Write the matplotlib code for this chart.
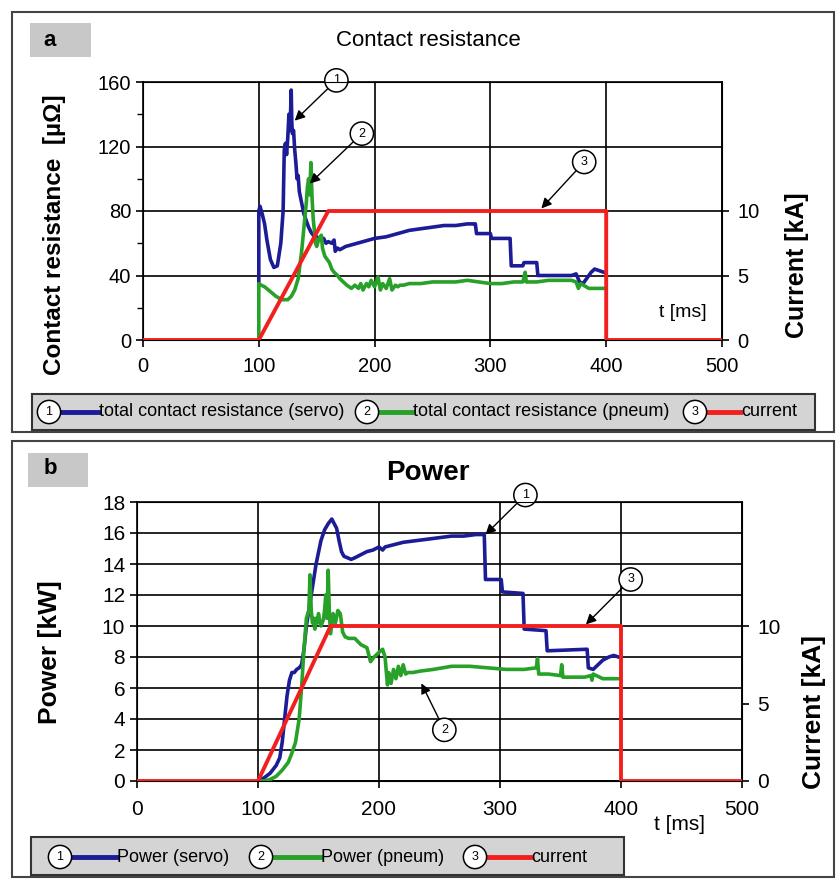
import matplotlib
matplotlib.use("Agg")
import matplotlib.pyplot as plt
from matplotlib.patches import Rectangle
from matplotlib.lines import Line2D

# ---------------------------------------------------------------------------
# Data
# ---------------------------------------------------------------------------
# current profile (kA), same in both panels
t_current = [0, 100, 160, 400, 400, 500]
i_current = [0, 0, 10, 10, 0, 0]

# panel a: total contact resistance (servo), micro-ohm
t_res_servo = [100, 100, 101, 103, 105, 107, 110, 113, 116, 119,
               121, 122, 123, 124, 125, 126, 127, 128, 128.5, 129,
               130, 131, 132, 133, 134, 135, 137, 139, 141, 143,
               145, 148, 150, 153, 156, 158, 160, 163, 165, 166,
               168, 170, 175, 180, 190, 200, 210, 220, 230, 240,
               250, 260, 270, 280, 285, 287, 288, 300, 301, 317,
               318, 328, 329, 340, 341, 370, 374, 377, 380, 383,
               387, 390, 394, 398]
r_servo = [35, 80, 83, 78, 72, 62, 50, 45, 46, 60,
           80, 118, 122, 115, 125, 140, 130, 155, 135, 128,
           130, 118, 110, 100, 102, 92, 85, 78, 74, 70,
           67, 64, 64, 62, 63, 60, 61, 60, 62, 55,
           57, 56, 58, 59, 61, 63, 64, 66, 68, 69,
           70, 71, 71, 72, 72, 72, 66, 66, 63, 63,
           46, 46, 48, 48, 40, 40, 41, 36, 35, 38,
           42, 44, 43, 42]

# panel a: total contact resistance (pneum), micro-ohm
t_res_pneum = [100, 100, 102, 105, 110, 115, 120, 125, 128, 131,
               134, 137, 139, 141, 142, 143, 144, 145, 145.5, 146,
               147, 148, 149, 150, 152, 154, 155, 157, 159, 161,
               163, 165, 168, 170, 173, 176, 180, 183, 186, 188,
               190, 193, 195, 197, 200, 203, 205, 207, 210, 213,
               215, 218, 220, 222, 225, 230, 240, 250, 260, 270,
               280, 290, 300, 310, 320, 328, 330, 331, 340, 350,
               360, 370, 374, 376, 378, 385, 398]
r_pneum = [0, 35, 34, 33, 30, 27, 25, 25, 27, 31,
           38, 55, 70, 85, 95, 100, 90, 110, 98, 88,
           75, 68, 60, 58, 63, 65, 57, 52, 50, 48,
           44, 42, 40, 38, 36, 34, 32, 34, 32, 35,
           31, 35, 33, 37, 33, 39, 31, 35, 32, 38,
           31, 34, 33, 34, 34, 35, 35, 36, 36, 36,
           37, 36, 35, 35, 36, 36, 42, 36, 36, 37,
           37, 37, 36, 32, 35, 32, 32]

# panel b: power (servo), kW
t_pow_servo = [100, 105, 110, 115, 118, 120, 122, 124, 126, 128,
               130, 132, 134, 136, 138, 140, 142, 145, 148, 152,
               155, 158, 161, 163, 165, 167, 169, 171, 174, 177,
               180, 185, 190, 195, 200, 203, 205, 210, 220, 230,
               240, 250, 260, 270, 280, 287, 288, 301, 302, 319,
               320, 338, 339, 372, 373, 377, 381, 385, 390, 394,
               398]
p_servo = [0, 0.2, 0.5, 1.0, 1.5, 2.5, 4.0, 5.5, 6.5, 7.0,
           7.0, 7.2, 7.3, 7.5, 8.5, 10.0, 11.0, 12.5, 14.0, 15.5,
           16.2, 16.6, 16.9, 16.6, 16.3, 15.5, 14.8, 14.5, 14.4, 14.3,
           14.4, 14.6, 14.8, 14.9, 15.1, 14.9, 15.1, 15.2, 15.4, 15.5,
           15.6, 15.7, 15.8, 15.8, 15.9, 15.9, 13.0, 13.0, 12.2, 12.1,
           9.8, 9.7, 8.4, 8.5, 7.3, 7.2, 7.5, 7.8, 8.0, 8.1,
           8.0]

# panel b: power (pneum), kW
t_pow_pneum = [100, 105, 110, 115, 120, 125, 128, 131, 134, 136,
               138, 140, 142, 143, 144, 145, 146, 147, 148, 149,
               150, 151, 152, 154, 155, 156, 157, 158, 159, 160,
               162, 164, 166, 168, 170, 172, 175, 180, 185, 190,
               193, 196, 200, 203, 205, 207, 208, 210, 212, 214,
               216, 218, 220, 222, 224, 228, 235, 245, 260, 275,
               290, 305, 320, 330, 331, 332, 340, 350, 351, 352,
               360, 370, 375, 376, 377, 385, 398]
p_pneum = [0, 0, 0.1, 0.3, 0.7, 1.2, 1.8, 2.5, 4.0, 6.0,
           8.5, 10.5, 11.0, 13.3, 11.0, 10.2, 10.5, 9.8, 10.5, 10.2,
           10.8, 10.3, 10.0, 10.4, 11.0, 12.0, 10.5, 13.6, 10.8, 9.5,
           10.8, 10.2, 11.0, 10.8, 9.6, 9.3, 9.2, 9.2, 8.8, 8.6,
           7.7, 8.0, 8.3, 8.5, 8.0, 6.2, 7.0, 6.3, 7.2, 6.6,
           7.4, 6.8, 7.5, 6.9, 7.0, 7.0, 7.1, 7.2, 7.4, 7.4,
           7.3, 7.2, 7.2, 7.3, 7.9, 6.9, 6.9, 6.8, 7.5, 6.7,
           6.7, 6.7, 6.8, 6.5, 6.9, 6.6, 6.6]

x_ticks = [0, 100, 200, 300, 400, 500]
res_ticks = [0, 40, 80, 120, 160]
pow_ticks = [0, 2, 4, 6, 8, 10, 12, 14, 16, 18]
cur_ticks = [0, 5, 10]

legend_a = ["total contact resistance (servo)", "total contact resistance (pneum)", "current"]
legend_b = ["Power (servo)", "Power (pneum)", "current"]

BLUE = "#1c1c96"
GREEN = "#27a127"
RED = "#f21f1f"
SANS = ["Liberation Sans", "DejaVu Sans"]

W, H = 840, 881
fig = plt.figure(figsize=(W / 100, H / 100), dpi=100)

# overlay in pixel coordinates for frames, labels and legends
ov = fig.add_axes([0, 0, 1, 1])
ov.set_xlim(0, W)
ov.set_ylim(H, 0)
ov.axis("off")

CIRC = dict(boxstyle="circle,pad=0.45", fc="white", ec="black", lw=1.1)


def px_axes(left, top, right, bottom):
    return fig.add_axes([left / W, 1 - bottom / H, (right - left) / W, (bottom - top) / H])


def style_axes(ax, ymax, yticks, size, xpad):
    ax.set_xlim(0, 500)
    ax.set_ylim(0, ymax)
    ax.set_xticks(x_ticks)
    ax.set_yticks(yticks)
    ax.grid(True, color="black", lw=1.2)
    ax.tick_params(direction="out", length=5, width=1.2, labelsize=size)
    ax.tick_params(axis="x", pad=xpad)
    for lab in ax.get_xticklabels() + ax.get_yticklabels():
        lab.set_family(SANS)
    for sp in ax.spines.values():
        sp.set_linewidth(1.2)


def twin_current(ax, ymax, size):
    tw = ax.twinx()
    tw.set_ylim(0, ymax)
    tw.set_yticks(cur_ticks)
    tw.tick_params(direction="out", length=5, width=1.2, labelsize=size, pad=6)
    for lab in tw.get_yticklabels():
        lab.set_family(SANS)
    return tw


def arrow(ax, s, xy, xytext):
    ax.annotate(s, xy=xy, xytext=xytext, annotation_clip=False,
                ha="center", va="center", fontsize=9, family=SANS, bbox=CIRC,
                arrowprops=dict(arrowstyle="-|>", color="black", lw=1, mutation_scale=15,
                                shrinkA=0, shrinkB=0))


def legend_row(y, items, labels, colors, size):
    for i, ((cx, x0, x1, tx), lab, col) in enumerate(zip(items, labels, colors)):
        ov.add_line(Line2D([x0, x1], [y, y], color=col, lw=3.5))
        ov.text(cx, y, str(i + 1), ha="center", va="center", fontsize=9, family=SANS, bbox=CIRC)
        ov.text(tx, y, lab, ha="left", va="center", fontsize=size, family=SANS)


# frames and panel tags
ov.add_patch(Rectangle((12, 12), 822, 420, fill=False, ec="#444444", lw=1.5))
ov.add_patch(Rectangle((12, 441), 822, 436, fill=False, ec="#444444", lw=1.5))
ov.add_patch(Rectangle((30, 23), 61, 34, fc="#c8c8c8", ec="none"))
ov.add_patch(Rectangle((28, 453), 60, 34, fc="#c8c8c8", ec="none"))
ov.text(50, 41, "a", ha="center", va="center", fontsize=16, fontweight="bold", family=SANS)
ov.text(50, 469, "b", ha="center", va="center", fontsize=16, fontweight="bold", family=SANS)

# ---------------------------------------------------------------------------
# Panel a: contact resistance
# ---------------------------------------------------------------------------
ax1 = px_axes(143, 82, 722, 340)
style_axes(ax1, 160, res_ticks, 14.5, 7)
ax1.set_yticks([20, 60, 100, 140], minor=True)
ax1.tick_params(which="minor", direction="out", length=4, width=1)
tw1 = twin_current(ax1, 20, 14.5)
ax1.plot(t_res_servo, r_servo, color=BLUE, lw=2.6, zorder=3)
ax1.plot(t_res_pneum, r_pneum, color=GREEN, lw=2.6, zorder=3)
tw1.plot(t_current, i_current, color=RED, lw=2.8, zorder=3)
ax1.text(466, 17, "t [ms]", ha="center", va="center", fontsize=14, family=SANS)
arrow(ax1, "1", (131, 136), (167, 161))
arrow(ax1, "2", (144, 97), (189, 128))
arrow(tw1, "3", (344, 10.2), (381, 13.8))

ov.text(428, 41, "Contact resistance", ha="center", va="center", fontsize=16, family=SANS)
ov.text(55, 235, "Contact resistance  [\u00b5\u03a9]", rotation=90, ha="center", va="center",
        fontsize=17.5, fontweight="bold", family=SANS)
ov.text(797, 265, "Current [kA]", rotation=90, ha="center", va="center",
        fontsize=18, fontweight="bold", family=SANS)

ov.add_patch(Rectangle((32, 394), 783, 36, fc="#d4d4d4", ec="#333333", lw=1.5))
legend_row(412, [(49, 58, 98, 99), (367, 377, 412, 413), (695, 705, 740, 741)],
           legend_a, [BLUE, GREEN, RED], 13)

# ---------------------------------------------------------------------------
# Panel b: power
# ---------------------------------------------------------------------------
ax2 = px_axes(137, 502, 742, 781)
style_axes(ax2, 18, pow_ticks, 15, 9)
tw2 = twin_current(ax2, 18, 15)
ax2.plot(t_pow_servo, p_servo, color=BLUE, lw=2.6, zorder=3)
ax2.plot(t_pow_pneum, p_pneum, color=GREEN, lw=2.6, zorder=3)
tw2.plot(t_current, i_current, color=RED, lw=2.8, zorder=3)
arrow(ax2, "1", (288, 15.9), (321, 18.45))
arrow(ax2, "2", (235, 6.3), (254, 3.3))
arrow(tw2, "3", (371, 10.1), (408, 13.0))

ov.text(428, 473, "Power", ha="center", va="center", fontsize=20, fontweight="bold", family=SANS)
ov.text(50, 652, "Power [kW]", rotation=90, ha="center", va="center",
        fontsize=19, fontweight="bold", family=SANS)
ov.text(814, 712, "Current [kA]", rotation=90, ha="center", va="center",
        fontsize=19, fontweight="bold", family=SANS)
ov.text(680, 824, "t [ms]", ha="center", va="center", fontsize=15, family=SANS)

ov.add_patch(Rectangle((31, 837), 593, 38, fc="#d4d4d4", ec="#333333", lw=1.5))
legend_row(857, [(60, 69, 116, 117), (261, 271, 320, 321), (475, 486, 530, 531)],
           legend_b, [BLUE, GREEN, RED], 13)

fig.savefig("out.png", dpi=100)
